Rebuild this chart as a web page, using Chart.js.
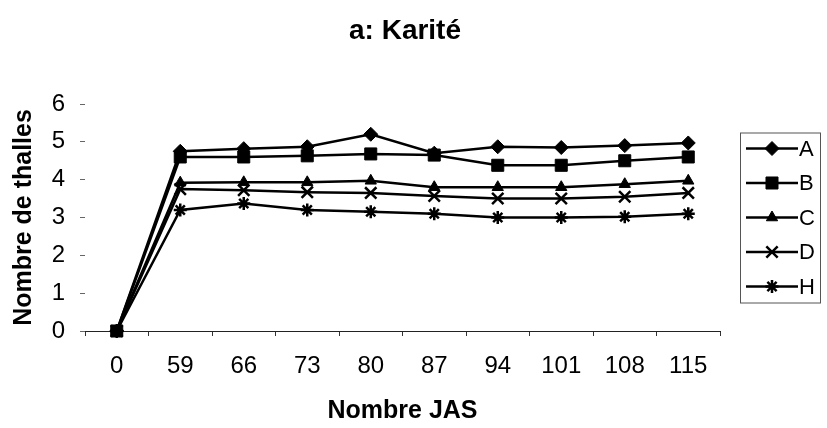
<!DOCTYPE html>
<html>
<head>
<meta charset="utf-8">
<script src="https://cdn.jsdelivr.net/npm/chart.js@4/dist/chart.umd.min.js"></script>
<style>
  html, body { margin: 0; padding: 0; background: #fff; }
  #wrap { width: 827px; height: 428px; position: relative; }
</style>
</head>
<body>
<div id="wrap"><canvas id="c" width="827" height="428"></canvas></div>
<script>
// ---- data ----
const categories = ['0', '59', '66', '73', '80', '87', '94', '101', '108', '115'];
const seriesA = [0, 4.75, 4.82, 4.87, 5.2, 4.7, 4.87, 4.85, 4.9, 4.97];
const seriesB = [0, 4.6, 4.6, 4.63, 4.68, 4.65, 4.38, 4.38, 4.5, 4.6];
const seriesC = [0, 3.92, 3.93, 3.93, 3.97, 3.8, 3.8, 3.8, 3.88, 3.97];
const seriesD = [0, 3.75, 3.72, 3.67, 3.65, 3.57, 3.5, 3.5, 3.55, 3.65];
const seriesH = [0, 3.2, 3.37, 3.2, 3.15, 3.1, 3.0, 3.0, 3.02, 3.1];
const seriesNames = ['A', 'B', 'C', 'D', 'H'];
const yTicks = [0, 1, 2, 3, 4, 5, 6];
const titleText = 'a: Karité';
const xTitle = 'Nombre JAS';
const yTitle = 'Nombre de thalles';

const FONT = 'Arial, "Liberation Sans", Helvetica, sans-serif';
const styles = [
  { pointStyle: 'rectRot', radius: 7 },
  { pointStyle: 'rect', radius: 8.5 },
  { pointStyle: 'triangle', radius: 6.5 },
  { pointStyle: 'crossRot', radius: 8 },
  { pointStyle: 'star', radius: 6.5 }
];
const allSeries = [seriesA, seriesB, seriesC, seriesD, seriesH];

const datasets = allSeries.map((vals, i) => ({
  label: seriesNames[i],
  data: vals,
  borderColor: '#000',
  backgroundColor: '#000',
  borderWidth: 2.5,
  pointStyle: styles[i].pointStyle,
  pointRadius: styles[i].radius,
  pointHoverRadius: styles[i].radius,
  pointBorderWidth: (styles[i].pointStyle === 'crossRot' || styles[i].pointStyle === 'star') ? 2.5 : 1,
  pointBackgroundColor: '#000',
  pointBorderColor: '#000',
  tension: 0,
  clip: false,
  yAxisID: 'y'
}));

// custom boxed legend drawn to the right of the plot area
const boxedLegend = {
  id: 'boxedLegend',
  afterDraw(chart) {
    const ctx = chart.ctx;
    const area = chart.chartArea;
    const w = 80, spacing = 34.5;
    const h = 170;
    const left = area.right + 20;
    const top = (area.top + area.bottom) / 2 - h / 2;
    ctx.save();
    ctx.strokeStyle = '#555';
    ctx.lineWidth = 1;
    ctx.strokeRect(left + 0.5, top + 0.5, w, h);
    const firstY = top + 16;
    chart.data.datasets.forEach((ds, i) => {
      const y = firstY + i * spacing;
      const x0 = left + 6, x1 = left + 58, xm = (x0 + x1) / 2;
      ctx.strokeStyle = '#000';
      ctx.lineWidth = 2.5;
      ctx.beginPath();
      ctx.moveTo(x0, y);
      ctx.lineTo(x1, y);
      ctx.stroke();
      const opts = {
        pointStyle: ds.pointStyle,
        radius: ds.pointRadius,
        borderWidth: ds.pointBorderWidth,
        rotation: 0
      };
      ctx.fillStyle = '#000';
      ctx.strokeStyle = '#000';
      ctx.lineWidth = ds.pointBorderWidth;
      if (Chart.helpers && Chart.helpers.drawPoint) {
        Chart.helpers.drawPoint(ctx, opts, xm, y);
      }
      ctx.fillStyle = '#000';
      ctx.font = '22px ' + FONT;
      ctx.textAlign = 'left';
      ctx.textBaseline = 'middle';
      ctx.fillText(ds.label, x1 + 1, y + 1);
    });
    ctx.restore();
  }
};

new Chart(document.getElementById('c'), {
  type: 'line',
  data: { labels: categories, datasets },
  plugins: [boxedLegend],
  options: {
    responsive: false,
    animation: false,
    devicePixelRatio: 1,
    layout: { padding: { left: 0, right: 17, top: 0, bottom: 0 } },
    plugins: {
      legend: { display: false },
      tooltip: { enabled: false },
      title: {
        display: true,
        text: titleText,
        color: '#000',
        font: { family: FONT, size: 28, weight: 'bold' },
        padding: { top: 14, bottom: 104 - 14 - 33.6 }
      }
    },
    scales: {
      x: {
        type: 'category',
        offset: true,
        afterFit(s) { s.height = 97; },
        border: { display: true, color: '#222', width: 1 },
        grid: { drawOnChartArea: false, drawTicks: true, tickLength: 5, color: '#333', offset: true },
        ticks: { color: '#000', font: { family: FONT, size: 24 }, padding: 16, maxRotation: 0, autoSkip: false },
        title: {
          display: true, text: xTitle, color: '#000',
          font: { family: FONT, size: 25, weight: 'bold' },
          padding: { top: 0, bottom: 2 }
        }
      },
      y: {
        min: yTicks[0],
        max: yTicks[yTicks.length - 1],
        afterFit(s) { s.width = 85; },
        afterBuildTicks(s) { s.ticks = yTicks.map(v => ({ value: v })); },
        border: { display: false },
        grid: { drawOnChartArea: false, drawTicks: true, tickLength: 5, color: '#666' },
        ticks: { color: '#000', font: { family: FONT, size: 24 }, padding: 15, stepSize: 1 },
        title: {
          display: true, text: yTitle, color: '#000',
          font: { family: FONT, size: 25, weight: 'bold' },
          padding: { top: 9, bottom: 0 }
        }
      },
      legendSpace: {
        type: 'linear',
        position: 'right',
        display: true,
        afterFit(s) { s.width = 90; },
        border: { display: false },
        grid: { display: false },
        ticks: { display: false }
      }
    }
  }
});
</script>
</body>
</html>
